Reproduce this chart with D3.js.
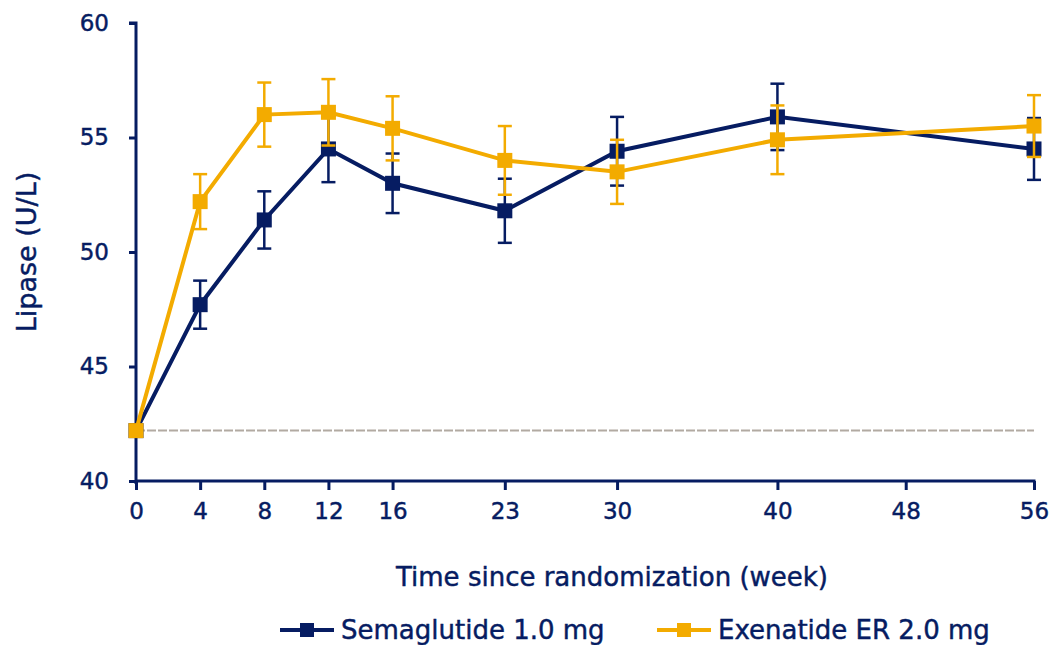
<!DOCTYPE html>
<html><head><meta charset="utf-8">
<script src="https://cdn.jsdelivr.net/npm/d3@7"></script>
<style>body{margin:0;background:#fff}svg{display:block}text{font-family:"DejaVu Sans",Verdana,sans-serif;stroke:#061c62;stroke-width:0.45px}</style>
</head><body>
<svg id="c" width="1050" height="645"></svg>
<script>
const weeks = [0, 4, 8, 12, 16, 23, 30, 40, 56];
const xTicks = [0, 4, 8, 12, 16, 23, 30, 40, 48, 56];
const yTicks = [40, 45, 50, 55, 60];
const semaMean = [42.2, 47.7, 51.4, 54.5, 53.0, 51.8, 54.4, 55.9, 54.5];
const semaErr  = [0, 1.05, 1.25, 1.45, 1.3, 1.4, 1.5, 1.45, 1.35];
const exeMean  = [42.2, 52.2, 56.0, 56.1, 55.4, 54.0, 53.5, 54.9, 55.5];
const exeErr   = [0, 1.2, 1.4, 1.45, 1.4, 1.5, 1.4, 1.5, 1.35];
const baseline = 42.2;
const seriesNames = ["Semaglutide 1.0 mg", "Exenatide ER 2.0 mg"];
const yLabel = "Lipase (U/L)";
const xLabel = "Time since randomization (week)";

const NAVY = "#061c62", ORANGE = "#f3ab00", GRAY = "#b2aaa2";
const FONT = '"DejaVu Sans",Verdana,sans-serif';
const svg = d3.select("#c");
const x = d3.scaleLinear().domain([0, 56]).range([136, 1034]);
const y = d3.scaleLinear().domain([40, 60]).range([481, 23]);

// baseline dashed
svg.append("line").attr("x1", x(0)).attr("x2", x(56)).attr("y1", y(baseline)).attr("y2", y(baseline))
  .attr("stroke", GRAY).attr("stroke-width", 2).attr("stroke-dasharray", "9,2");

// axes
const yAxis = svg.append("g").attr("transform", `translate(${x(0)},0)`)
  .call(d3.axisLeft(y).tickValues(yTicks).tickSize(7).tickPadding(20));
const xAxis = svg.append("g").attr("transform", `translate(0,${y(40)})`)
  .call(d3.axisBottom(x).tickValues(xTicks).tickSize(9).tickPadding(13));
[yAxis, xAxis].forEach(g => {
  g.select(".domain").attr("stroke", NAVY).attr("stroke-width", 3);
  g.selectAll(".tick line").attr("stroke", NAVY).attr("stroke-width", 3);
  g.selectAll(".tick text").attr("fill", NAVY).style("font-size", "23px").style("font-family", FONT);
});
yAxis.select(".domain").attr("d", `M-7,${y(60)}H0V${y(40)+3}`);
xAxis.select(".domain").attr("d", `M${x(0)},0H${x(56)+1.5}`);

svg.append("text").attr("transform", `translate(36,${(y(40)+y(60))/2}) rotate(-90)`)
  .attr("text-anchor", "middle").attr("fill", NAVY).style("font-size", "27px").text(yLabel);
svg.append("text").attr("x", 612).attr("y", 586).attr("text-anchor", "middle")
  .attr("fill", NAVY).style("font-size", "26px").text(xLabel);

function drawSeries(mean, err, color) {
  const data = weeks.map((w, i) => ({w, m: mean[i], e: err[i]}));
  const g = svg.append("g");
  g.append("path").datum(data).attr("fill", "none").attr("stroke", color).attr("stroke-width", 4)
    .attr("d", d3.line().x(d => x(d.w)).y(d => y(d.m)));
  const eb = g.selectAll(".eb").data(data.filter(d => d.e > 0)).join("g");
  eb.append("line").attr("x1", d => x(d.w)).attr("x2", d => x(d.w))
    .attr("y1", d => y(d.m + d.e)).attr("y2", d => y(d.m - d.e)).attr("stroke", color).attr("stroke-width", 2.5);
  [1, -1].forEach(s => eb.append("line").attr("x1", d => x(d.w) - 7).attr("x2", d => x(d.w) + 7)
    .attr("y1", d => y(d.m + s * d.e)).attr("y2", d => y(d.m + s * d.e)).attr("stroke", color).attr("stroke-width", 2.5));
  g.selectAll("rect").data(data).join("rect")
    .attr("x", d => x(d.w) - 7.5).attr("y", d => y(d.m) - 7.5).attr("width", 15).attr("height", 15).attr("fill", color);
}
drawSeries(semaMean, semaErr, NAVY);
drawSeries(exeMean, exeErr, ORANGE);

// legend
const legend = [{name: seriesNames[0], color: NAVY, x0: 280}, {name: seriesNames[1], color: ORANGE, x0: 657}];
legend.forEach(l => {
  const g = svg.append("g");
  g.append("line").attr("x1", l.x0).attr("x2", l.x0 + 54).attr("y1", 630).attr("y2", 630).attr("stroke", l.color).attr("stroke-width", 4);
  g.append("rect").attr("x", l.x0 + 20).attr("y", 623).attr("width", 14).attr("height", 14).attr("fill", l.color);
  g.append("text").attr("x", l.x0 + 61).attr("y", 639).attr("fill", NAVY).style("font-size", "26px").text(l.name);
});
</script>
</body></html>
